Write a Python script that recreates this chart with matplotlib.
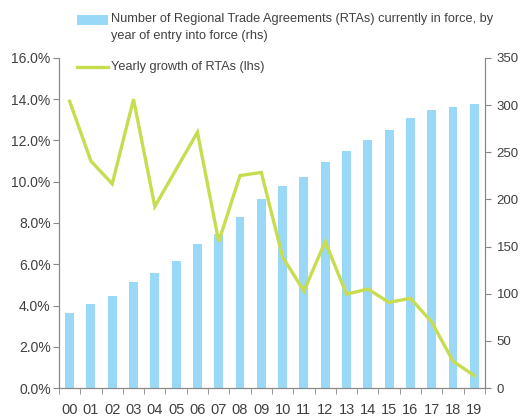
import matplotlib.pyplot as plt
import numpy as np
from matplotlib.ticker import FuncFormatter
from matplotlib.patches import Rectangle
from matplotlib.lines import Line2D

plt.rcParams['font.family'] = ['Liberation Sans', 'DejaVu Sans']

years = ['00', '01', '02', '03', '04', '05', '06', '07', '08', '09',
         '10', '11', '12', '13', '14', '15', '16', '17', '18', '19']
rtas_in_force = [80, 89, 98, 112, 122, 135, 153, 163, 181, 200,
                 214, 224, 240, 251, 263, 274, 286, 295, 298, 301]
yearly_growth = [13.9, 11.0, 9.9, 14.0, 8.8, 10.6, 12.4, 7.1, 10.3, 10.45,
                 6.35, 4.7, 7.1, 4.55, 4.8, 4.15, 4.35, 3.2, 1.3, 0.6]

bar_color = '#99d9f7'
line_color = '#c8dc50'
axis_color = '#888888'
text_color = '#404040'

fig = plt.figure(figsize=(5.22, 4.17), dpi=100)
ax = fig.add_axes([0.113, 0.0695, 0.816, 0.7915])
ax2 = ax.twinx()

x = np.arange(len(years))
bars = ax2.bar(x, rtas_in_force, width=0.42, color=bar_color, zorder=1)
ax2.set_ylim(0, 350)
ax2.set_yticks(np.arange(0, 351, 50))

# line on the left axis, drawn over the bars
ax.set_zorder(ax2.get_zorder() + 1)
ax.patch.set_visible(False)
line, = ax.plot(x, yearly_growth, color=line_color, lw=2.4, solid_joinstyle='miter')
ax.set_ylim(0, 16)
ax.set_yticks(np.arange(0, 16.1, 2))
ax.yaxis.set_major_formatter(FuncFormatter(lambda v, p: f"{v:.1f}%"))
ax.set_xlim(-0.5, len(years) - 0.5)

ax.set_xticks(x)
ax.set_xticklabels(years)
ax.set_xticks(np.arange(-0.5, len(years)), minor=True)
ax.tick_params(axis='x', which='major', length=0, pad=11, labelsize=10.5, colors=text_color)
ax.tick_params(axis='x', which='minor', length=4, color=axis_color)
ax.tick_params(axis='y', length=4, color=axis_color, labelsize=10, labelcolor=text_color, pad=2)
ax2.tick_params(axis='y', length=4, color=axis_color, labelsize=9.5, labelcolor=text_color, pad=4.5)

for a in (ax, ax2):
    a.spines['top'].set_visible(False)
    for s in ('left', 'right', 'bottom'):
        a.spines[s].set_color(axis_color)

# legend drawn by hand so the handle sits on the first text line
fig.patches.append(Rectangle((0.1475, 0.940), 0.059, 0.024, transform=fig.transFigure,
                             facecolor=bar_color, edgecolor='none'))
fig.text(0.2126, 0.968, 'Number of Regional Trade Agreements (RTAs) currently in force, by\n'
         'year of entry into force (rhs)', fontsize=9.2, color=text_color,
         va='top', ha='left', linespacing=1.55)
fig.lines.append(Line2D([0.1475, 0.2066], [0.839, 0.839], transform=fig.transFigure,
                        color=line_color, lw=2.4))
fig.text(0.2126, 0.839, 'Yearly growth of RTAs (lhs)', fontsize=9.2, color=text_color,
         va='center', ha='left')

fig.savefig('out.png', dpi=100)
